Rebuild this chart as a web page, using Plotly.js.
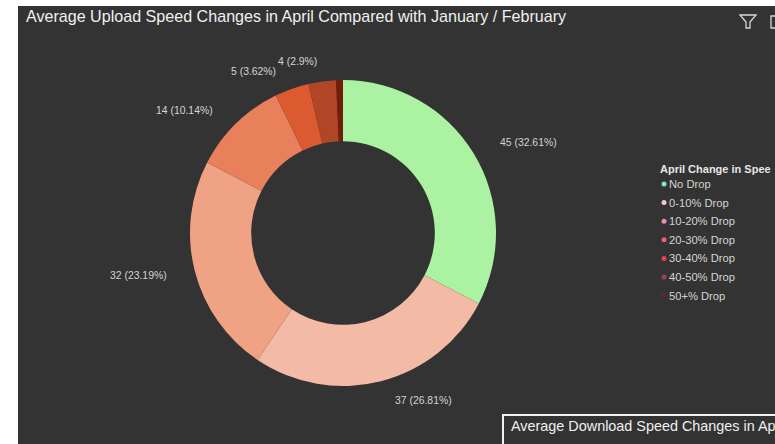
<!DOCTYPE html>
<html><head><meta charset="utf-8">
<script src="https://cdn.plot.ly/plotly-3.0.1.min.js"></script>
<style>html,body{margin:0;padding:0;background:#fff;overflow:hidden}#c{width:775px;height:444px}</style>
</head><body><div id="c"></div>
<script>
var categories = ["No Drop","0-10% Drop","10-20% Drop","20-30% Drop","30-40% Drop","40-50% Drop","50+% Drop"];
var counts = [45,37,32,14,5,4,1];
var percents = [32.61,26.81,23.19,10.14,3.62,2.9,0.72];
var sliceColors = ["#abf2a2","#f3bba6","#f0a284","#e8805c","#dc5a30","#b04626","#741c0c"];
var legendDots = ["#84e8c4","#f0c4d0","#ec8cab","#f0606c","#e8404c","#a83a5c","#6c2030"];
var chartTitle = "Average Upload Speed Changes in April Compared with January / February";
var secondTitle = "Average Download Speed Changes in Ap";
var legendTitle = "April Change in Spee";

var W=775,H=444;
function px(x){return x/W;} function py(y){return 1-y/H;}
var labelAt = [[498,143,"left"],[393,400,"left"],[169,275,"right"],[215,110,"right"],[278,71,"right"],[276,61,"left"],null];

var annotations=[], shapes=[];
function txt(s,x,y,size,anchor,color){
  annotations.push({text:s,xref:"paper",yref:"paper",x:px(x),y:py(y),xanchor:anchor||"left",yanchor:"middle",showarrow:false,
    font:{family:"'Liberation Sans',Arial,sans-serif",size:size,color:color||"#e6e6e6"},align:"left"});
}
shapes.push({type:"rect",xref:"paper",yref:"paper",x0:px(18),x1:px(780),y0:py(6),y1:py(450),fillcolor:"#333333",line:{width:0},layer:"below"});
shapes.push({type:"rect",xref:"paper",yref:"paper",x0:px(503),x1:px(790),y0:py(415),y1:py(450),fillcolor:"#333333",line:{width:2,color:"#f2f2f2"},layer:"below"});
var f=function(x,y){return px(x)+","+py(y);};
shapes.push({type:"path",xref:"paper",yref:"paper",path:"M"+f(740,15)+"L"+f(756,15)+"L"+f(750,22)+"L"+f(750,28)+"L"+f(746,28)+"L"+f(746,22)+"Z",line:{color:"#d8d8d8",width:1.3},fillcolor:"rgba(0,0,0,0)"});
shapes.push({type:"rect",xref:"paper",yref:"paper",x0:px(771),x1:px(785),y0:py(16),y1:py(28),line:{color:"#d8d8d8",width:1.3},fillcolor:"rgba(0,0,0,0)"});

txt(chartTitle,24,16,16.1,"left","#f0f0f0");
txt(secondTitle,509,426,14.4,"left","#f0f0f0");
counts.forEach(function(c,i){
  if(!labelAt[i])return;
  txt(c+" ("+percents[i]+"%)",labelAt[i][0],labelAt[i][1],10.4,labelAt[i][2],"#d4d4d4");
});
txt("<b>"+legendTitle+"</b>",658,169,11,"left","#e6e6e6");
categories.forEach(function(c,i){
  var y=184+i*18.6;
  txt(c,667,y,11.2,"left","#d4d4d4");
  shapes.push({type:"circle",xref:"paper",yref:"paper",x0:px(661.5),x1:px(666.5),y0:py(y-2.5),y1:py(y+2.5),fillcolor:legendDots[i],line:{width:0}});
});

Plotly.newPlot("c",[{
  type:"pie",labels:categories,values:counts,sort:false,direction:"clockwise",rotation:0,hole:0.6,
  marker:{colors:sliceColors,line:{width:0}},textinfo:"none",showlegend:false,
  domain:{x:[px(190),px(496)],y:[py(386),py(80)]}
}],{
  width:W,height:H,margin:{l:0,r:0,t:0,b:0},paper_bgcolor:"#ffffff",showlegend:false,
  annotations:annotations,shapes:shapes
},{displayModeBar:false,staticPlot:true});
</script></body></html>
